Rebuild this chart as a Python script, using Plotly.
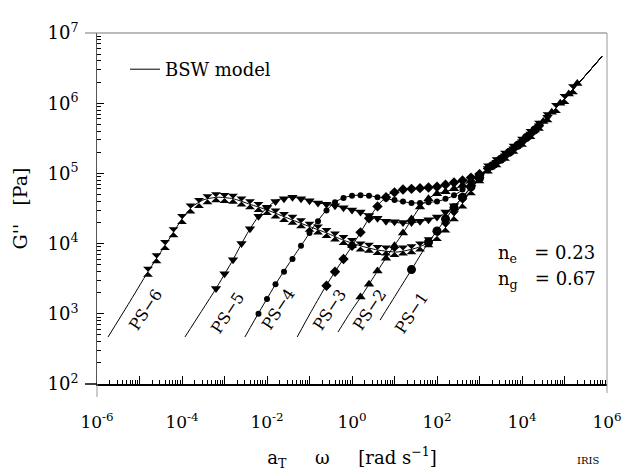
import numpy as np
import plotly.graph_objects as go

FONT = "DejaVu Serif"

# ---- values (log10 of a_T*omega [rad/s] and log10 of G'' [Pa]) ----
# high-frequency part shared by all samples
common_logw = [3.25, 3.5, 3.75, 4.0, 4.25, 4.5, 4.75, 5.0, 5.25, 5.5, 5.88]
common_logG = [5.09, 5.20, 5.32, 5.45, 5.59, 5.74, 5.90, 6.06, 6.23, 6.40, 6.665]

# BSW model curves (low-frequency part of each sample)
ps1_model_logw = [0.66, 1.01, 1.37, 1.79, 2.07, 2.31, 2.54, 2.78, 3.01]
ps1_model_logG = [2.91, 3.25, 3.60, 4.01, 4.24, 4.44, 4.62, 4.79, 4.93]
ps2_model_logw = [-0.33, -0.05, 0.24, 0.59, 0.89, 1.20, 1.44, 1.60, 1.79, 2.00, 2.31, 2.59, 2.82, 3.06]
ps2_model_logG = [2.74, 3.01, 3.27, 3.60, 3.88, 4.15, 4.38, 4.52, 4.64, 4.71, 4.76, 4.82, 4.91, 4.99]
ps3_model_logw = [-1.29, -0.99, -0.64, -0.40, -0.05, 0.19, 0.42, 0.66, 0.89, 1.13, 1.44, 1.77, 2.07, 2.38, 2.71, 3.01]
ps3_model_logG = [2.67, 3.00, 3.37, 3.60, 3.92, 4.15, 4.38, 4.58, 4.71, 4.76, 4.78, 4.79, 4.82, 4.86, 4.92, 4.99]
ps4_model_logw = [-2.52, -2.17, -1.77, -1.39, -1.11, -0.87, -0.64, -0.40, -0.17, 0.12, 0.42, 0.73, 1.06, 1.41, 1.72, 2.07, 2.38, 2.66, 2.94, 3.18]
ps4_model_logG = [2.67, 3.04, 3.45, 3.80, 4.05, 4.27, 4.45, 4.59, 4.66, 4.69, 4.68, 4.65, 4.61, 4.58, 4.58, 4.61, 4.68, 4.79, 4.93, 5.05]
ps5_model_logw = [-3.93, -3.58, -3.22, -2.80, -2.59, -2.40, -2.21, -2.00, -1.77, -1.46, -1.15, -0.87, -0.52, -0.17, 0.19, 0.54, 0.89, 1.37, 1.79, 2.07, 2.35, 2.61, 2.85, 3.06]
ps5_model_logG = [2.67, 3.00, 3.34, 3.77, 4.01, 4.21, 4.38, 4.51, 4.62, 4.66, 4.64, 4.59, 4.55, 4.51, 4.45, 4.37, 4.31, 4.29, 4.34, 4.39, 4.51, 4.66, 4.84, 4.99]
ps6_model_logw = [-5.74, -5.27, -4.80, -4.35, -4.00, -3.77, -3.51, -3.18, -2.80, -2.40, -2.00, -1.46, -0.99, -0.59, -0.21, 0.19, 0.59, 1.06, 1.53, 1.91, 2.19, 2.42, 2.61, 2.78, 2.97, 3.13]
ps6_model_logG = [2.67, 3.13, 3.60, 4.02, 4.35, 4.52, 4.62, 4.66, 4.64, 4.56, 4.48, 4.35, 4.24, 4.15, 4.05, 3.97, 3.91, 3.88, 3.94, 4.05, 4.22, 4.41, 4.58, 4.74, 4.91, 5.02]

# measured points
ps1_data_logw = [1.4, 1.8, 2.0, 2.2, 2.4, 2.6, 2.8, 3.0, 3.3, 3.5, 3.7, 3.9, 4.1, 4.3]
ps1_data_logG = [3.63, 4.02, 4.18, 4.35, 4.51, 4.66, 4.81, 4.93, 5.11, 5.20, 5.30, 5.40, 5.51, 5.62]
ps2_data_logw = [0.2, 0.4, 0.6, 0.8, 1.0, 1.2, 1.4, 1.6, 1.8, 2.0, 2.2, 2.4, 2.6, 2.8, 3.0, 3.3, 3.5, 3.7, 3.9, 4.1, 4.3, 4.5, 4.7, 4.9, 5.1, 5.3]
ps2_data_logG = [3.24, 3.42, 3.61, 3.79, 3.97, 4.15, 4.35, 4.52, 4.64, 4.71, 4.74, 4.78, 4.83, 4.90, 4.97, 5.11, 5.20, 5.30, 5.40, 5.51, 5.62, 5.74, 5.87, 6.00, 6.13, 6.28]
ps3_data_logw = [-0.6, -0.4, -0.2, 0.0, 0.2, 0.4, 0.6, 0.8, 1.0, 1.2, 1.4, 1.6, 1.8, 2.0, 2.2, 2.4, 2.6, 2.8, 3.0, 3.2, 3.4, 3.6, 3.8, 4.0, 4.2, 4.4]
ps3_data_logG = [3.40, 3.60, 3.78, 3.97, 4.16, 4.36, 4.53, 4.66, 4.73, 4.77, 4.78, 4.79, 4.80, 4.81, 4.84, 4.87, 4.90, 4.94, 4.99, 5.07, 5.16, 5.25, 5.35, 5.45, 5.56, 5.68]
ps4_data_logw = [-2.2, -2.0, -1.8, -1.6, -1.4, -1.2, -1.0, -0.8, -0.6, -0.4, -0.2, 0.0, 0.2, 0.4, 0.6, 0.8, 1.0, 1.2, 1.4, 1.6, 1.8, 2.0, 2.2, 2.4, 2.6, 2.8, 3.0, 3.3, 3.5, 3.7, 3.9]
ps4_data_logG = [3.00, 3.21, 3.42, 3.60, 3.78, 3.97, 4.15, 4.32, 4.47, 4.59, 4.65, 4.68, 4.69, 4.68, 4.66, 4.64, 4.62, 4.60, 4.58, 4.58, 4.59, 4.60, 4.64, 4.69, 4.77, 4.86, 4.96, 5.11, 5.20, 5.30, 5.40]
ps5_data_logw = [-3.2, -3.0, -2.8, -2.6, -2.4, -2.2, -2.0, -1.8, -1.6, -1.4, -1.2, -1.0, -0.8, -0.6, -0.4, -0.2, 0.0, 0.2, 0.4, 0.6, 0.8, 1.0, 1.2, 1.4, 1.6, 1.8, 2.0, 2.2, 2.4, 2.6, 2.8, 3.0, 3.2, 3.4, 3.6, 3.8, 4.0, 4.2, 4.4, 4.6]
ps5_data_logG = [3.36, 3.57, 3.77, 4.00, 4.21, 4.39, 4.51, 4.60, 4.64, 4.66, 4.64, 4.61, 4.58, 4.56, 4.54, 4.51, 4.48, 4.45, 4.40, 4.36, 4.32, 4.31, 4.30, 4.30, 4.32, 4.34, 4.38, 4.45, 4.54, 4.66, 4.80, 4.95, 5.07, 5.16, 5.25, 5.35, 5.45, 5.56, 5.68, 5.80]
ps6_data_logw = [-4.8, -4.6, -4.4, -4.2, -4.0, -3.8, -3.6, -3.4, -3.2, -3.0, -2.8, -2.6, -2.4, -2.2, -2.0, -1.8, -1.6, -1.4, -1.2, -1.0, -0.8, -0.6, -0.4, -0.2, 0.0, 0.2, 0.4, 0.6, 0.8, 1.0, 1.2, 1.4, 1.6, 1.8, 2.0, 2.2, 2.4, 2.6, 2.8, 3.0, 3.2, 3.4, 3.6, 3.8, 4.0, 4.2, 4.4, 4.6, 4.8, 5.0, 5.2]
ps6_data_logG = [3.60, 3.79, 3.98, 4.16, 4.35, 4.50, 4.58, 4.63, 4.66, 4.65, 4.64, 4.60, 4.56, 4.52, 4.48, 4.43, 4.38, 4.34, 4.29, 4.24, 4.20, 4.15, 4.10, 4.05, 4.01, 3.96, 3.94, 3.91, 3.90, 3.88, 3.90, 3.92, 3.96, 4.02, 4.11, 4.23, 4.39, 4.57, 4.76, 4.93, 5.07, 5.16, 5.25, 5.35, 5.45, 5.56, 5.68, 5.80, 5.93, 6.06, 6.20]

sample_names = ["PS\u22121", "PS\u22122", "PS\u22123", "PS\u22124", "PS\u22125", "PS\u22126"]
# label anchor positions (log10 w, log10 G'')
label_logw = [1.39, 0.42, -0.52, -1.74, -2.94, -4.85]
label_logG = [3.01, 3.06, 3.06, 3.06, 3.01, 3.06]

x_label_exp = [-6, -4, -2, 0, 2, 4, 6]
x_unlabeled_exp = [-5, -3, -1, 1, 3, 5]
y_label_exp = [2, 3, 4, 5, 6, 7]

models = [
    (ps1_model_logw, ps1_model_logG),
    (ps2_model_logw, ps2_model_logG),
    (ps3_model_logw, ps3_model_logG),
    (ps4_model_logw, ps4_model_logG),
    (ps5_model_logw, ps5_model_logG),
    (ps6_model_logw, ps6_model_logG),
]
datas = [
    (ps1_data_logw, ps1_data_logG),
    (ps2_data_logw, ps2_data_logG),
    (ps3_data_logw, ps3_data_logG),
    (ps4_data_logw, ps4_data_logG),
    (ps5_data_logw, ps5_data_logG),
    (ps6_data_logw, ps6_data_logG),
]
symbols = ["circle", "triangle-up", "diamond", "circle", "triangle-down", "hourglass"]
sizes = [9, 9, 8, 6, 9, 10]

# plot area in pixels (for placing free text)
L, R, T, B = 97, 607, 33, 384


def px(xp):
    return (xp - L) / (R - L)


def py(yp):
    return 1 - (yp - T) / (B - T)


fig = go.Figure()

for i, (mw, mg) in enumerate(models):
    lw = np.array(mw + common_logw)
    lg = np.array(mg + common_logG)
    fig.add_trace(go.Scatter(
        x=10 ** lw, y=10 ** lg, mode="lines",
        line=dict(color="black", width=1, shape="spline", smoothing=0.6),
        name="BSW model", showlegend=(i == 5), hoverinfo="skip"))

for i, (dw, dg) in enumerate(datas):
    fig.add_trace(go.Scatter(
        x=10 ** np.array(dw), y=10 ** np.array(dg), mode="markers",
        marker=dict(symbol=symbols[i], size=sizes[i], color="black", line=dict(width=0)),
        name=sample_names[i], showlegend=False))

annotations = []
for name, lx, ly in zip(sample_names, label_logw, label_logG):
    annotations.append(dict(x=lx, y=ly, xref="x", yref="y", text=name, showarrow=False,
                            textangle=-56, font=dict(family=FONT, size=16, color="black")))

tf = dict(family=FONT, size=18, color="black")
annotations += [
    dict(x=px(496), y=py(254), xref="paper", yref="paper", xanchor="left", yanchor="middle",
         text="n<sub>e</sub>\u00a0\u00a0 = 0.23", showarrow=False, font=tf),
    dict(x=px(496), y=py(280), xref="paper", yref="paper", xanchor="left", yanchor="middle",
         text="n<sub>g</sub>\u00a0\u00a0 = 0.67", showarrow=False, font=tf),
    dict(x=px(588), y=py(460), xref="paper", yref="paper", xanchor="center", yanchor="middle",
         text="IRIS", showarrow=False, font=dict(family=FONT, size=10, color="black")),
]

minor_x = [m * 10.0 ** k for k in range(-6, 6) for m in range(2, 10)]
minor_y = [m * 10.0 ** k for k in range(2, 7) for m in range(2, 10)]

shapes = [
    dict(type="line", xref="paper", yref="paper", x0=px(85), x1=1.0, y0=1.0, y1=1.0,
         line=dict(color="#777", width=1.2)),
    dict(type="line", xref="paper", yref="paper", x0=1.0, x1=1.0, y0=1.0, y1=py(393),
         line=dict(color="#999", width=1)),
    dict(type="line", xref="paper", yref="paper", x0=0.0, x1=0.0, y0=0.0, y1=py(397),
         line=dict(color="#999", width=1)),
    dict(type="line", xref="paper", yref="paper", x0=px(85), x1=0.0, y0=0.0, y1=0.0,
         line=dict(color="black", width=1.5)),
]
# long ticks at the unlabelled decades of the x axis
for e in x_unlabeled_exp:
    xp = (e + 6) / 12.0
    shapes.append(dict(type="line", xref="paper", yref="paper", x0=xp, x1=xp, y0=0.0, y1=8.0 / (B - T),
                       line=dict(color="black", width=1)))

NB = "\u00a0"
fig.update_layout(
    width=628, height=472,
    margin=dict(l=L, r=628 - R, t=T, b=472 - B, autoexpand=False),
    paper_bgcolor="white", plot_bgcolor="white",
    font=dict(family=FONT, color="black"),
    showlegend=True,
    legend=dict(x=px(125), y=py(51), xanchor="left", yanchor="top", bgcolor="rgba(0,0,0,0)",
                font=dict(family=FONT, size=18, color="black")),
    annotations=annotations,
    shapes=shapes,
    xaxis=dict(
        type="log", range=[-6, 6], automargin=False,
        tickvals=[10.0 ** e for e in x_label_exp],
        ticktext=["10<sup>%d</sup>" % e for e in x_label_exp],
        ticks="inside", ticklen=8, tickwidth=1, tickcolor="black",
        minor=dict(ticks="inside", ticklen=4, tickwidth=1, tickcolor="black", tickvals=minor_x, showgrid=False),
        showline=True, linecolor="black", linewidth=1.5, mirror=False,
        showgrid=False, zeroline=False,
        tickfont=dict(family=FONT, size=17, color="black"),
        ticklabelstandoff=22,
        title=dict(text=NB * 5 + "a<sub>T</sub>" + NB * 4 + " \u03c9" + NB * 4 + " [rad s<sup>\u22121</sup>]",
                   font=dict(family=FONT, size=18, color="black"), standoff=20),
    ),
    yaxis=dict(
        type="log", range=[2, 7], automargin=False,
        tickvals=[10.0 ** e for e in y_label_exp],
        ticktext=["10<sup>%d</sup>" % e for e in y_label_exp],
        ticks="inside", ticklen=7, tickwidth=1, tickcolor="black",
        minor=dict(ticks="inside", ticklen=4, tickwidth=1, tickcolor="black", tickvals=minor_y, showgrid=False),
        showline=True, linecolor="#555", linewidth=1, mirror=False,
        showgrid=False, zeroline=False,
        tickfont=dict(family=FONT, size=18, color="black"),
        ticklabelstandoff=14,
        title=dict(text="G''" + NB * 2 + " [Pa]", font=dict(family=FONT, size=19, color="black"),
                   standoff=14),
    ),
)

fig.write_html("out.html", config={"displayModeBar": False},
               post_script="document.body.style.margin='0px';document.body.style.padding='0px';")
